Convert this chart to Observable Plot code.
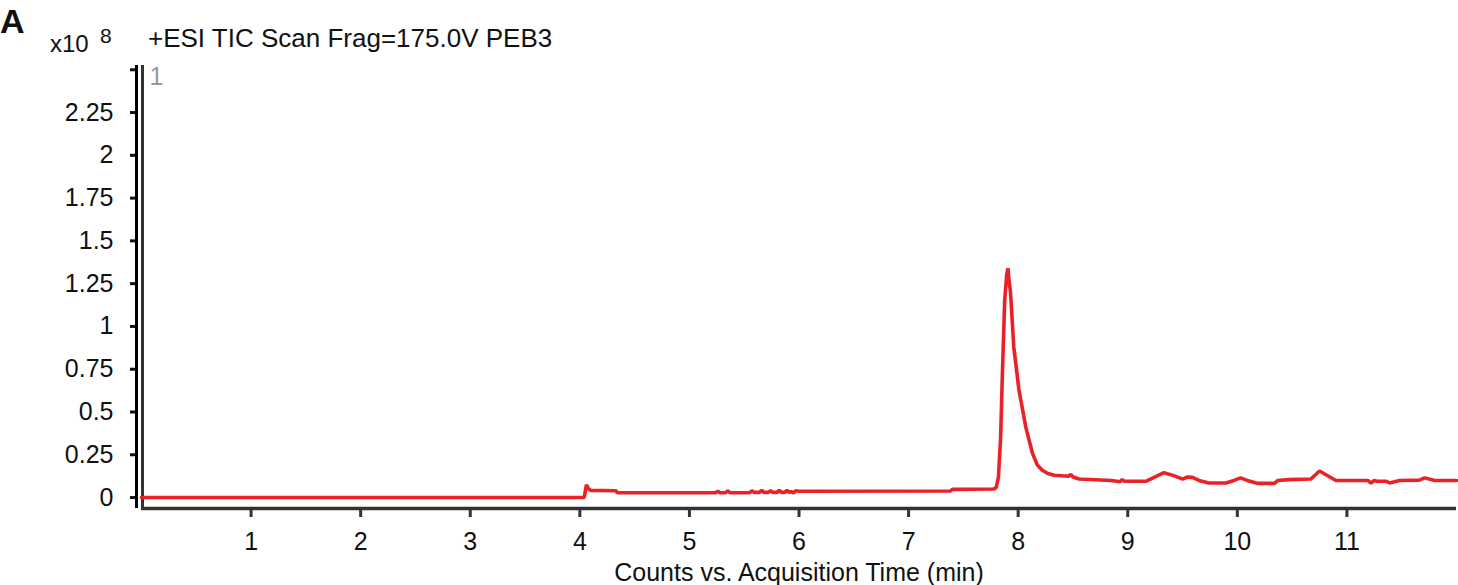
<!DOCTYPE html>
<html>
<head>
<meta charset="utf-8">
<script src="https://cdn.jsdelivr.net/npm/d3@7"></script>
<script src="https://cdn.jsdelivr.net/npm/@observablehq/plot@0.6"></script>
<style>
  html, body { margin: 0; padding: 0; background: #fff; }
  #wrap { position: relative; width: 1458px; height: 585px; font-family: "Liberation Sans", Arial, Helvetica, sans-serif; color: #111; }
  #wrap svg { position: absolute; left: 0; top: 0; }
  .ov { position: absolute; line-height: 1; white-space: nowrap; }
</style>
</head>
<body>
<div id="wrap">
  <div class="ov" style="left:0px;top:4px;font-size:34px;font-weight:bold;">A</div>
  <div class="ov" style="left:50px;top:32px;font-size:24px;">x10</div>
  <div class="ov" style="left:100px;top:25px;font-size:21px;">8</div>
  <div class="ov" style="left:148px;top:25px;font-size:26px;">+ESI TIC Scan Frag=175.0V PEB3</div>
</div>
<script>
// Acquisition time (min)
const time = [0, 4.04, 4.06, 4.08, 4.10, 4.33, 4.34, 5.24, 5.26, 5.28, 5.33, 5.35, 5.37, 5.55, 5.57, 5.59, 5.64, 5.66, 5.68, 5.72, 5.74, 5.76, 5.80, 5.82, 5.84, 5.87, 5.89, 5.91, 5.93, 5.95, 5.97, 6.0, 7.38, 7.40, 7.78, 7.80, 7.82, 7.84, 7.855, 7.877, 7.895, 7.907, 7.915, 7.93, 7.96, 8.007, 8.07, 8.13, 8.175, 8.22, 8.27, 8.33, 8.40, 8.46, 8.48, 8.50, 8.555, 8.85, 8.93, 8.95, 8.97, 9.165, 9.24, 9.33, 9.42, 9.50, 9.545, 9.59, 9.65, 9.74, 9.895, 9.97, 10.03, 10.09, 10.18, 10.34, 10.37, 10.47, 10.67, 10.75, 10.9, 11.19, 11.22, 11.25, 11.27, 11.36, 11.39, 11.48, 11.66, 11.71, 11.8, 12.0];
// Counts (x10^8)
const counts = [0, 0, 0.075, 0.05, 0.042, 0.04, 0.028, 0.028, 0.038, 0.028, 0.028, 0.04, 0.028, 0.028, 0.04, 0.03, 0.03, 0.042, 0.03, 0.03, 0.04, 0.03, 0.03, 0.042, 0.03, 0.03, 0.042, 0.03, 0.035, 0.027, 0.04, 0.037, 0.038, 0.048, 0.05, 0.06, 0.12, 0.35, 0.7, 1.15, 1.3, 1.34, 1.28, 1.2, 0.88, 0.63, 0.41, 0.26, 0.19, 0.16, 0.14, 0.13, 0.127, 0.125, 0.135, 0.12, 0.108, 0.1, 0.092, 0.105, 0.095, 0.095, 0.118, 0.145, 0.128, 0.108, 0.12, 0.118, 0.1, 0.085, 0.085, 0.1, 0.115, 0.1, 0.083, 0.083, 0.1, 0.105, 0.108, 0.155, 0.1, 0.1, 0.085, 0.1, 0.095, 0.095, 0.085, 0.1, 0.102, 0.115, 0.1, 0.1];

const xTicks = [1, 2, 3, 4, 5, 6, 7, 8, 9, 10, 11];
const yTicks = [0, 0.25, 0.5, 0.75, 1, 1.25, 1.5, 1.75, 2, 2.25, 2.5];
const yTickLabels = ["0", "0.25", "0.5", "0.75", "1", "1.25", "1.5", "1.75", "2", "2.25", ""];
const xDomain = [0, 12];
const yDomain = [-0.064, 2.525];
const xLabel = "Counts vs. Acquisition Time (min)";
const traceLabel = "1";

const data = time.map((t, i) => ({t, v: counts[i]}));

const chart = Plot.plot({
  width: 1458,
  height: 585,
  marginLeft: 141,
  marginRight: 2,
  marginTop: 65,
  marginBottom: 77,
  style: {fontFamily: '"Liberation Sans", Arial, Helvetica, sans-serif', fontSize: "25px", color: "#111", background: "transparent"},
  x: {domain: xDomain},
  y: {domain: yDomain},
  marks: [
    Plot.axisY({ticks: yTicks, tickFormat: (d) => yTickLabels[yTicks.indexOf(d)], tickSize: 5, tickPadding: 17, dx: -6, strokeWidth: 3, label: null, fontSize: 25}),
    Plot.ruleX([xDomain[0]], {dx: -5, stroke: "#000", strokeWidth: 3}),
    Plot.ruleX([xDomain[0]], {dx: 1, stroke: "#333", strokeWidth: 3}),
    Plot.ruleY([yDomain[0]], {stroke: "#333", strokeWidth: 3.5}),
    Plot.axisX({ticks: xTicks, tickSize: 9, tickPadding: 15, strokeWidth: 3, stroke: "#333", label: xLabel, labelAnchor: "center", labelArrow: "none", labelOffset: 72, fontSize: 25}),
    Plot.line(data, {x: "t", y: "v", stroke: "#ea2228", strokeWidth: 3.6, strokeLinejoin: "miter"}),
    Plot.text([traceLabel], {frameAnchor: "top-left", dx: 8, dy: 2, fill: "#999", fontSize: 25, textAnchor: "start", lineAnchor: "top"})
  ]
});
document.getElementById("wrap").prepend(chart);
</script>
</body>
</html>
